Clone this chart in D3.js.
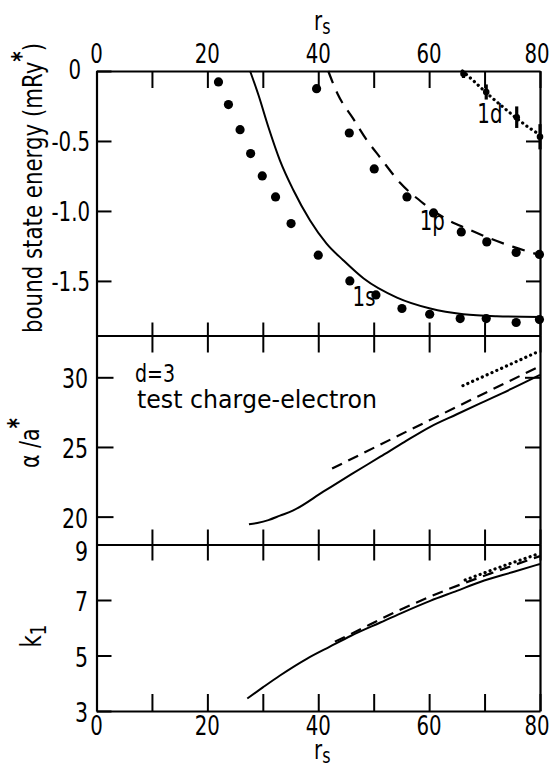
<!DOCTYPE html>
<html><head><meta charset="utf-8">
<script src="https://cdn.jsdelivr.net/npm/d3@7"></script>
<style>html,body{margin:0;padding:0;background:#fff}</style>
</head><body><svg id="c" width="552" height="769"></svg>
<script>
// ---------- data ----------
const rsTicks = [0,10,20,30,40,50,60,70,80];
const rsLabelValues = [0,20,40,60,80];
const energyTicks = [0,-0.5,-1.0,-1.5];
const energyTickLabels = ["0","-0.5","-1.0","-1.5"];
const alphaTicks = [20,25,30];
const kTicks = [3,5,7,9];

// top panel: bound state energy (mRy*)
const dots1s_rs = [22,23.8,25.9,27.8,29.9,32.3,35.1,40,45.7,50.4,55.1,60.1,65.6,70.3,75.7,79.9];
const dots1s_E  = [-0.078,-0.24,-0.419,-0.59,-0.75,-0.90,-1.09,-1.316,-1.50,-1.60,-1.697,-1.738,-1.769,-1.769,-1.797,-1.776];
const dots1p_rs = [39.7,45.6,50.1,56.0,60.8,65.8,70.4,75.7,79.9];
const dots1p_E  = [-0.126,-0.443,-0.70,-0.90,-1.014,-1.15,-1.221,-1.297,-1.311];
const dots1d_rs = [66.2,70.3,75.8,80];
const dots1d_E  = [-0.02,-0.15,-0.33,-0.47];
const dots1d_err = [0.03,0.054,0.077,0.09];

const line1s_rs = [27.7,29.2,31,33.1,35.5,38.5,41.5,44.5,48.2,54.2,60.2,66.2,72.2,80];
const line1s_E  = [0,-0.17,-0.40,-0.64,-0.85,-1.066,-1.233,-1.352,-1.483,-1.619,-1.697,-1.738,-1.752,-1.757];
const line1p_rs = [41.8,43.5,46.3,48.7,51.2,54.8,59,63.2,66.8,71,75.2,80];
const line1p_E  = [0,-0.165,-0.34,-0.49,-0.62,-0.80,-0.947,-1.06,-1.126,-1.197,-1.257,-1.316];
const line1d_rs = [66,68,70.3,73.4,76,78.2,80];
const line1d_E  = [0,-0.07,-0.155,-0.26,-0.345,-0.41,-0.455];

// middle panel: alpha / a*
const alphaSolid_rs = [27.5,29,31,33.1,35.5,40.9,46,51.2,55.5,60.2,65,69.2,75,80];
const alphaSolid    = [19.45,19.55,19.75,20.07,20.45,21.79,23.05,24.3,25.35,26.45,27.35,28.13,29.2,30.17];
const alphaDashed_rs = [42.5,61,80];
const alphaDashed    = [23.45,27.1,30.8];
const alphaDotted_rs = [66.1,72.8,80];
const alphaDotted    = [29.4,30.6,31.9];

// bottom panel: k1
const kSolid_rs = [27.2,30,33.1,38,42.1,46,51.2,55,60.2,65,69.2,75,80];
const kSolid    = [3.45,3.85,4.28,4.89,5.32,5.72,6.19,6.53,6.97,7.33,7.65,8.0,8.30];
const kDashed_rs = [43,44.9,54.8,62.6,71,80];
const kDashed    = [5.5,5.68,6.65,7.32,7.95,8.58];
const kDotted_rs = [66.5,73,80];
const kDotted    = [7.72,8.2,8.68];

// ---------- layout ----------
const FONT = "'DejaVu Sans','Liberation Sans',sans-serif";
const SX = 0.76;              // horizontal compression of the condensed lettering
const L = 96.5, R = 540;
const TOP = {y0:71, y1:335.5}, MID = {y0:335.5, y1:544.5}, BOT = {y0:544.5, y1:711};

const svg = d3.select("#c");
const x = d3.scaleLinear().domain([0,80]).range([L,R]);
const yE = d3.scaleLinear().domain([-1.89,0]).range([TOP.y1,TOP.y0]);
const yA = d3.scaleLinear().domain([18,33]).range([MID.y1,MID.y0]);
const yK = d3.scaleLinear().domain([3,9]).range([BOT.y1,BOT.y0]);

function txt(px, py, str, size, anchor){
  return svg.append("text")
    .attr("transform",`translate(${px},${py}) scale(${SX},1)`)
    .attr("text-anchor",anchor||"start")
    .attr("font-family",FONT).attr("font-size",size).attr("fill","#000")
    .text(str);
}
function styleAxis(g){
  g.selectAll("path.domain").attr("stroke","#000").attr("stroke-width",2.2);
  g.selectAll(".tick line").attr("stroke","#000").attr("stroke-width",2);
  g.selectAll(".tick text").remove();
}
function hAxis(y, axisFn, size){
  svg.append("g").attr("transform",`translate(0,${y})`)
    .call(axisFn(x).tickValues(rsTicks).tickSize(size).tickSizeOuter(0))
    .call(styleAxis);
}
hAxis(TOP.y0, d3.axisTop, -17);
hAxis(TOP.y1, d3.axisBottom, -13);
hAxis(MID.y0, d3.axisTop, -17);
hAxis(MID.y1, d3.axisBottom, -15);
hAxis(BOT.y0, d3.axisTop, -16);
hAxis(BOT.y1, d3.axisBottom, -17);

function vAxis(px, axisFn, scale, ticks, size){
  svg.append("g").attr("transform",`translate(${px},0)`)
    .call(axisFn(scale).tickValues(ticks).tickSize(size).tickSizeOuter(0))
    .call(styleAxis);
}
vAxis(L, d3.axisLeft, yE, energyTicks, -15);
vAxis(R, d3.axisRight, yE, energyTicks.slice(1), -14);
vAxis(L, d3.axisLeft, yA, alphaTicks, -17);
vAxis(R, d3.axisRight, yA, alphaTicks, -15);
vAxis(L, d3.axisLeft, yK, kTicks, -15);
vAxis(R, d3.axisRight, yK, [5,7], -15);

// tick labels
const TS = 26;
rsLabelValues.forEach(v=>{
  const dx = v===80 ? -3 : 0;
  txt(x(v)+dx, 63, String(v), TS, "middle");
  txt(x(v)+dx, 735, String(v), TS, "middle");
});
energyTicks.forEach((v,i)=>{
  if(v===0) txt(81, yE(v)+8, energyTickLabels[i], TS, "end");
  else txt(90, yE(v)+10, energyTickLabels[i], TS, "end");
});
alphaTicks.forEach(v=> txt(88, yA(v)+11, String(v), 27, "end"));
kTicks.forEach(v=> txt(88, v===9 ? yK(v)+16 : yK(v)+11, String(v), 27, "end"));

// ---------- marks ----------
function drawLine(xs, ys, yScale, style){
  const pts = xs.map((v,i)=>[v,ys[i]]);
  const p = svg.append("path").datum(pts)
    .attr("fill","none").attr("stroke","#000")
    .attr("d", d3.line().x(d=>x(d[0])).y(d=>yScale(d[1])).curve(d3.curveMonotoneX));
  if(style==="solid") p.attr("stroke-width",2);
  if(style==="dashed") p.attr("stroke-width",2.2).attr("stroke-dasharray","13,9");
  if(style==="dashed2") p.attr("stroke-width",2.2).attr("stroke-dasharray","11,7");
  if(style==="dotted") p.attr("stroke-width",3.2).attr("stroke-dasharray","0.1,5.2").attr("stroke-linecap","round");
}
drawLine(line1s_rs,line1s_E,yE,"solid");
drawLine(line1p_rs,line1p_E,yE,"dashed");
drawLine(line1d_rs,line1d_E,yE,"dotted");
drawLine(alphaSolid_rs,alphaSolid,yA,"solid");
drawLine(alphaDashed_rs,alphaDashed,yA,"dashed2");
drawLine(alphaDotted_rs,alphaDotted,yA,"dotted");
drawLine(kSolid_rs,kSolid,yK,"solid");
drawLine(kDashed_rs,kDashed,yK,"dashed2");
drawLine(kDotted_rs,kDotted,yK,"dotted");

function drawDots(xs, ys){
  svg.append("g").selectAll("circle").data(xs.map((v,i)=>[v,ys[i]])).join("circle")
    .attr("cx",d=>x(d[0])).attr("cy",d=>yE(d[1])).attr("r",4.6).attr("fill","#000");
}
drawDots(dots1s_rs,dots1s_E);
drawDots(dots1p_rs,dots1p_E);
const d1 = dots1d_rs.map((v,i)=>({r:v,e:dots1d_E[i],err:dots1d_err[i]}));
svg.append("g").selectAll("line").data(d1).join("line")
  .attr("x1",d=>x(d.r)).attr("x2",d=>x(d.r))
  .attr("y1",d=>yE(Math.min(0,d.e+d.err))).attr("y2",d=>yE(d.e-d.err))
  .attr("stroke","#000").attr("stroke-width",3.2);
svg.append("g").selectAll("circle").data(d1).join("circle")
  .attr("cx",d=>x(d.r)).attr("cy",d=>yE(d.e)).attr("r",3.3).attr("fill","#000");

// ---------- text ----------
const curveLabels = [
  {t:"1s", r:46.2, v:-1.68},
  {t:"1p", r:58.3, v:-1.135},
  {t:"1d", r:68.7, v:-0.37}
];
curveLabels.forEach(d=> txt(x(d.r), yE(d.v), d.t, 26, "start"));

txt(x(6.95), yA(29.65), "d=3", 25, "start");
svg.append("text").attr("x",x(7.3)).attr("y",yA(27.8)).attr("font-family",FONT).attr("font-size",24)
  .attr("textLength",240).attr("lengthAdjust","spacingAndGlyphs").text("test charge-electron");

// axis titles
function rsTitle(cx, baseline){
  const t = svg.append("text").attr("transform",`translate(${cx},${baseline}) scale(${SX},1)`)
    .attr("text-anchor","middle").attr("font-family",FONT).attr("font-size",26);
  t.append("tspan").text("r");
  t.append("tspan").attr("dy",4).attr("font-size",21).text("s");
}
rsTitle(x(40)+4, 30);
rsTitle(x(40)+4, 759);

const yt1 = svg.append("text").attr("transform","translate(42,188) rotate(-90)")
  .attr("text-anchor","middle").attr("font-family",FONT).attr("font-size",26)
  .attr("textLength",290).attr("lengthAdjust","spacingAndGlyphs");
yt1.append("tspan").text("bound state energy (mRy");
yt1.append("tspan").attr("dy",-13).attr("font-size",24).attr("font-weight","bold").text("*");
yt1.append("tspan").attr("dy",13).text(")");

const yt2 = svg.append("text").attr("transform",`translate(39,443) rotate(-90) scale(${SX},1)`)
  .attr("text-anchor","middle").attr("font-family",FONT).attr("font-size",27);
yt2.append("tspan").text("α /a");
yt2.append("tspan").attr("dy",-12).attr("font-size",26).attr("font-weight","bold").text("*");

const yt3 = svg.append("text").attr("transform",`translate(41,636) rotate(-90) scale(${SX},1)`)
  .attr("text-anchor","middle").attr("font-family",FONT).attr("font-size",28);
yt3.append("tspan").text("k");
yt3.append("tspan").attr("dy",5).attr("font-size",22).text("1");
</script></body></html>
